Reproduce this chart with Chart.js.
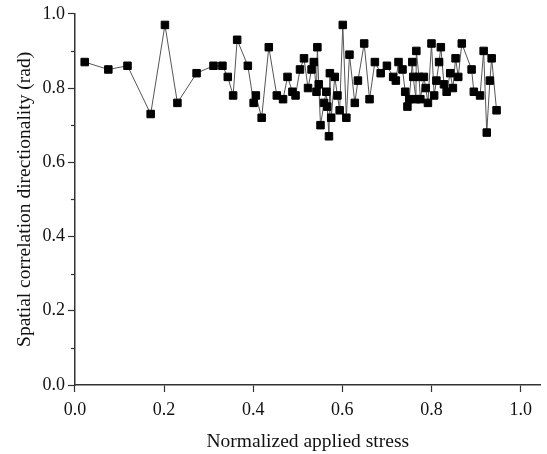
<!DOCTYPE html>
<html>
<head>
<meta charset="utf-8">
<script src="https://cdn.jsdelivr.net/npm/chart.js@4.4.0/dist/chart.umd.min.js"></script>
<style>
  html, body { margin: 0; padding: 0; background: #fff; }
  #wrap { width: 547px; height: 454px; }
</style>
</head>
<body>
<div id="wrap"><canvas id="myChart" width="547" height="454"></canvas></div>
<script>
// values
var stress = [0.022, 0.075, 0.118, 0.170, 0.202, 0.230, 0.273, 0.311, 0.331, 0.343,
  0.355, 0.364, 0.388, 0.401, 0.406, 0.419, 0.435, 0.453, 0.467, 0.477,
  0.488, 0.495, 0.505, 0.514, 0.523, 0.531, 0.536, 0.542, 0.544, 0.547,
  0.551, 0.559, 0.564, 0.566, 0.570, 0.572, 0.575, 0.583, 0.589, 0.594,
  0.601, 0.609, 0.616, 0.628, 0.635, 0.649, 0.661, 0.673, 0.686, 0.700,
  0.714, 0.720, 0.726, 0.735, 0.741, 0.746, 0.750, 0.757, 0.759, 0.765,
  0.766, 0.772, 0.775, 0.783, 0.787, 0.792, 0.800, 0.806, 0.811, 0.817,
  0.821, 0.828, 0.834, 0.842, 0.848, 0.854, 0.860, 0.868, 0.890, 0.895,
  0.909, 0.917, 0.924, 0.931, 0.935, 0.946];
var directionality = [0.87, 0.85, 0.86, 0.73, 0.97, 0.76, 0.84, 0.86, 0.86, 0.83,
  0.78, 0.93, 0.86, 0.76, 0.78, 0.72, 0.91, 0.78, 0.77, 0.83,
  0.79, 0.78, 0.85, 0.88, 0.80, 0.85, 0.87, 0.79, 0.91, 0.81,
  0.70, 0.76, 0.79, 0.75, 0.67, 0.84, 0.72, 0.83, 0.78, 0.74,
  0.97, 0.72, 0.89, 0.76, 0.82, 0.92, 0.77, 0.87, 0.84, 0.86,
  0.83, 0.82, 0.87, 0.85, 0.79, 0.75, 0.77, 0.87, 0.83, 0.77,
  0.90, 0.83, 0.77, 0.83, 0.80, 0.76, 0.92, 0.78, 0.82, 0.87,
  0.91, 0.81, 0.79, 0.84, 0.80, 0.88, 0.83, 0.92, 0.85, 0.79,
  0.78, 0.90, 0.68, 0.82, 0.88, 0.74];
var xTicks = [0, 0.2, 0.4, 0.6, 0.8, 1.0];
var yMinorTicks = [0.1, 0.3, 0.5, 0.7, 0.9];

var points = stress.map(function (x, i) { return {x: x, y: directionality[i]}; });

// short unlabeled ticks on the y axis
var minorTicks = {
  id: 'minorTicks',
  afterDraw: function (chart) {
    var ctx = chart.ctx, y = chart.scales.y;
    ctx.save();
    ctx.strokeStyle = '#333';
    ctx.lineWidth = 1.2;
    yMinorTicks.forEach(function (v) {
      var py = Math.round(y.getPixelForValue(v)) + 0.5;
      ctx.beginPath();
      ctx.moveTo(y.right - 4, py);
      ctx.lineTo(y.right, py);
      ctx.stroke();
    });
    ctx.restore();
  }
};

var serif = 'Liberation Serif, Times New Roman, serif';
var ctx = document.getElementById('myChart').getContext('2d');
var myChart = new Chart(ctx, {
  type: 'scatter',
  data: {
    datasets: [{
      data: points,
      showLine: true,
      borderColor: '#555',
      borderWidth: 1,
      backgroundColor: '#000',
      pointStyle: 'rect',
      pointRadius: 5.3,
      pointBorderColor: '#000',
      pointBorderWidth: 1
    }]
  },
  options: {
    responsive: false,
    animation: false,
    layout: { padding: { top: 3, right: 6, left: 13, bottom: 0 } },
    plugins: {
      legend: { display: false },
      tooltip: { enabled: false }
    },
    scales: {
      x: {
        min: 0,
        max: 1.045,
        afterBuildTicks: function (axis) {
          axis.ticks = xTicks.map(function (v) { return {value: v}; });
        },
        ticks: {
          font: { family: serif, size: 18 },
          color: '#111',
          padding: 7,
          maxRotation: 0,
          callback: function (v) { return v.toFixed(1); }
        },
        grid: { drawOnChartArea: false, tickLength: 7, color: '#333', tickWidth: 1.2 },
        border: { color: '#333', width: 1.5 },
        title: {
          display: true,
          text: 'Normalized applied stress',
          font: { family: serif, size: 19.5 },
          color: '#111',
          padding: { top: 3, bottom: 0 }
        }
      },
      y: {
        min: 0,
        max: 1.0,
        ticks: {
          stepSize: 0.2,
          font: { family: serif, size: 18 },
          color: '#111',
          padding: 3,
          callback: function (v) { return v.toFixed(1); }
        },
        grid: { drawOnChartArea: false, tickLength: 7, color: '#333', tickWidth: 1.2 },
        border: { color: '#333', width: 1.5 },
        title: {
          display: true,
          text: 'Spatial correlation directionality (rad)',
          font: { family: serif, size: 19.5 },
          color: '#111',
          padding: { top: 0, bottom: 3 }
        }
      }
    }
  },
  plugins: [minorTicks]
});
</script>
</body>
</html>
